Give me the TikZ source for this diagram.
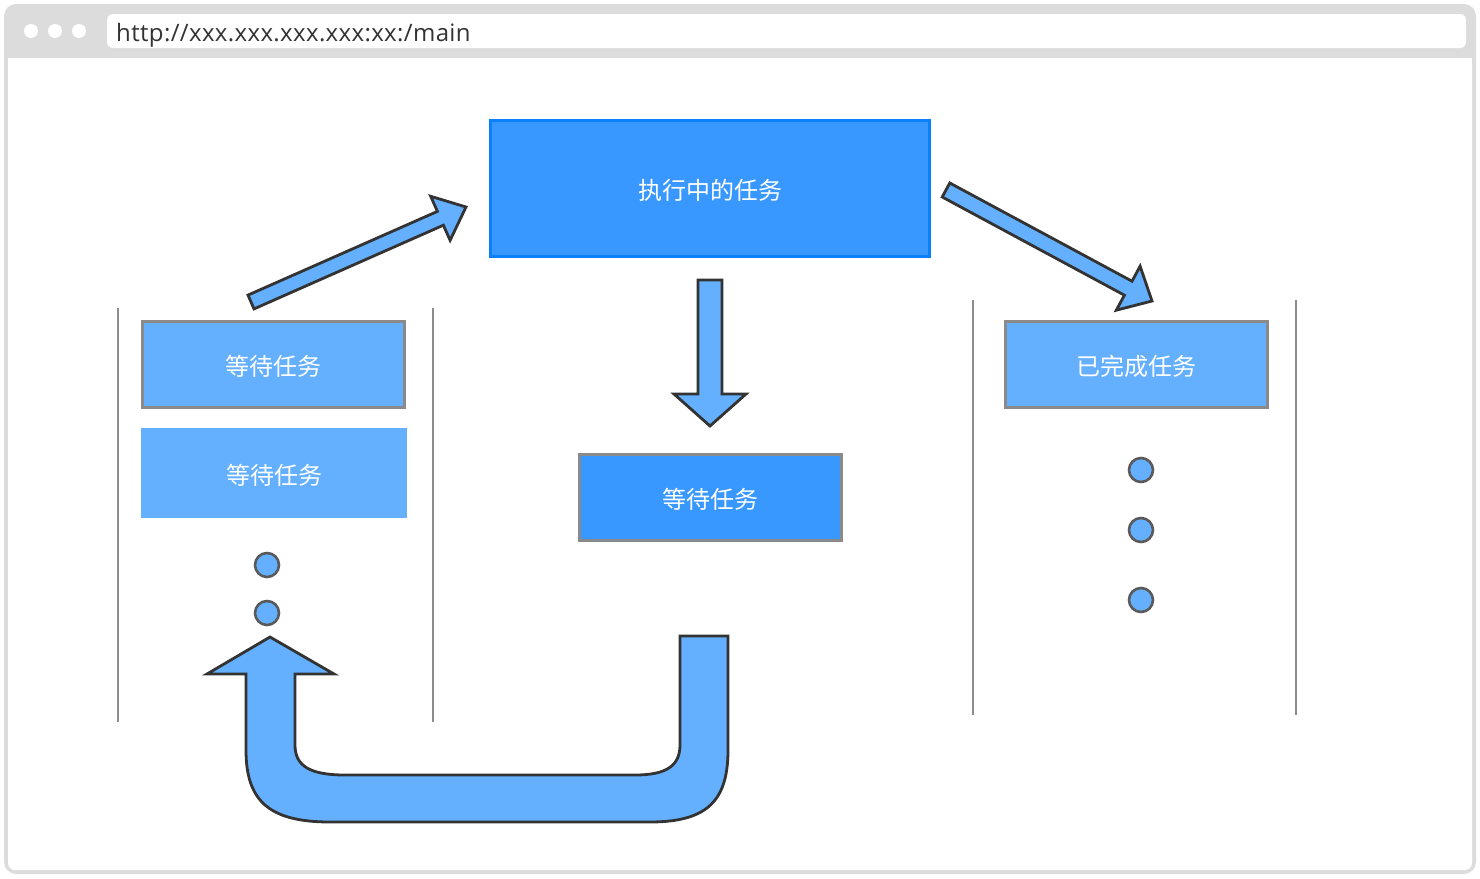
\documentclass[tikz,border=0pt]{standalone}
\usepackage{fontspec}
\setmainfont{Open Sans}
\newfontfamily\urlfont[LetterSpace=1.5]{Open Sans}
\newfontfamily\cjk{Noto Sans CJK SC}
\definecolor{framegray}{HTML}{DCDCDC}
\definecolor{urltext}{HTML}{333333}
\definecolor{runblue}{HTML}{3898FF}
\definecolor{runedge}{HTML}{0A80FA}
\definecolor{waitblue}{HTML}{64B0FF}
\definecolor{boxedge}{HTML}{8A8A8A}
\definecolor{arrowedge}{HTML}{333333}
\definecolor{laneline}{HTML}{8C8C8C}
\definecolor{dotedge}{HTML}{5A5A5A}
\begin{document}
\begin{tikzpicture}[x=1pt,y=-1pt,
  taskbox/.style={rectangle, minimum width=262, minimum height=86, inner sep=0,
    text=white, font=\cjk\fontsize{24}{24}\selectfont},
  label/.style={yshift=-2pt},
  grayedge/.style={draw=boxedge, line width=3},
  blockarrow/.style={fill=waitblue, draw=arrowedge, line width=2.8, line join=miter},
  lane/.style={draw=laneline, line width=1.4},
  dot/.style={circle, minimum size=24, inner sep=0, draw=dotedge, line width=2.6, fill=waitblue}]
\useasboundingbox (0,0) rectangle (1480,878);

% browser window
\fill[framegray, rounded corners=12] (4,4) rectangle (1476,874);
\fill[white, rounded corners=7] (8,58) rectangle (1472,870);
\fill[white] (8,58) rectangle (1472,70);
\fill[white, rounded corners=6] (107,14) rectangle (1466,48);
\foreach \cx in {31,55,79} \fill[white] (\cx,31) circle (7);
\node[anchor=base west, inner sep=0, text=urltext, font=\urlfont\fontsize{24}{24}\selectfont] (url) at (116,41) {http://xxx.xxx.xxx.xxx:xx:/main};

% lanes
\draw[lane] (118,308) -- (118,722);
\draw[lane] (433,308) -- (433,722);
\draw[lane] (973,300) -- (973,715);
\draw[lane] (1296,300) -- (1296,715);

% task boxes
\node[taskbox, fill=runblue, draw=runedge, line width=3, minimum width=439, minimum height=136]
  (run) at (710,188.5) {};
\node[taskbox, grayedge, fill=waitblue] (wait1) at (273.5,364.5) {};
\node[taskbox, fill=waitblue, minimum width=266, minimum height=90] (wait2) at (274,473) {};
\node[taskbox, grayedge, fill=runblue] (next) at (710.5,497.5) {};
\node[taskbox, grayedge, fill=waitblue] (done) at (1136.5,364.5) {};

% box captions
\node[taskbox, label] at (run) {执行中的任务};
\node[taskbox, label] at (wait1) {等待任务};
\node[taskbox, label] at (wait2) {等待任务};
\node[taskbox, label] at (next) {等待任务};
\node[taskbox, label] at (done) {已完成任务};

% ellipsis dots
\node[dot] (l1) at (267,565) {};
\node[dot] (l2) at (267,613) {};
\node[dot] (r1) at (1141,470) {};
\node[dot] (r2) at (1141,530) {};
\node[dot] (r3) at (1141,600) {};

% block arrows
\draw[blockarrow] (254.0,308.9) -- (248.0,295.1) -- (437.4,211.4) -- (430.7,196.3)
  -- (466,207) -- (450.1,240.3) -- (443.4,225.2) -- cycle;
\draw[blockarrow] (942.2,197.0) -- (949.8,183.0) -- (1132.0,281.2) -- (1140.1,266.2)
  -- (1152,301) -- (1116.3,310.2) -- (1124.4,295.2) -- cycle;
\draw[blockarrow] (698,280) -- (722,280) -- (722,394) -- (746,394) -- (710,426)
  -- (674,394) -- (698,394) -- cycle;
\draw[blockarrow] (680,636) -- (728,636) -- (728,750)
  .. controls (728,800) and (708,822) .. (650,822) -- (330,822)
  .. controls (268,822) and (246,800) .. (246,750) -- (246,674) -- (207,674)
  -- (270,637) -- (334,674) -- (295,674) -- (295,745)
  .. controls (295,766) and (310,775) .. (345,775) -- (635,775)
  .. controls (666,775) and (680,766) .. (680,745) -- cycle;
\end{tikzpicture}
\end{document}
